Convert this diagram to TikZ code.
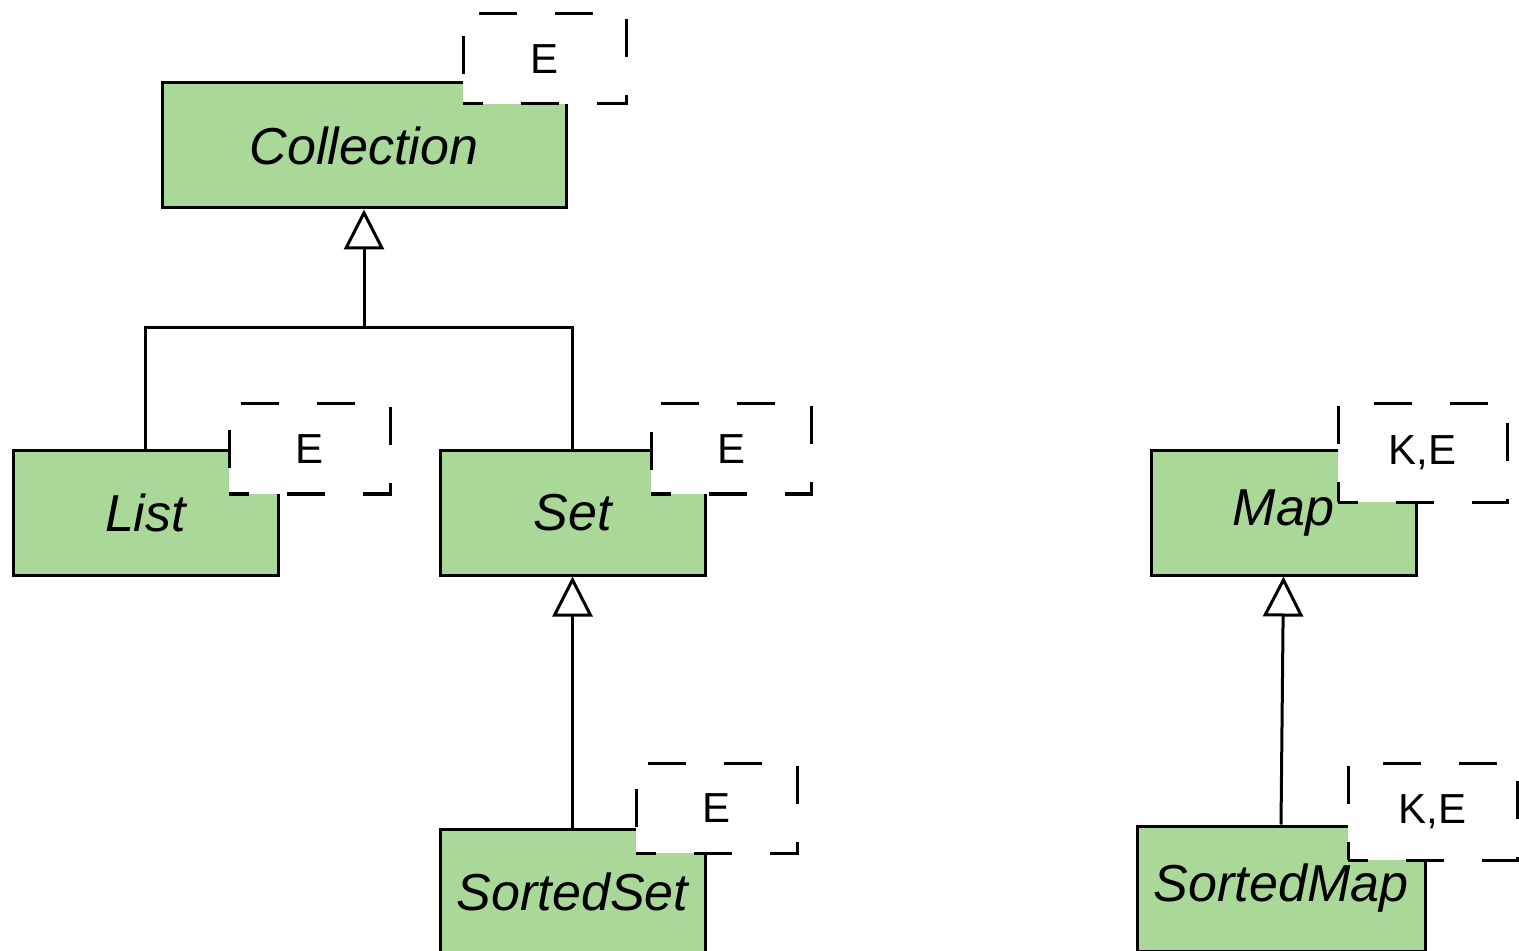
\documentclass[tikz,border=0pt]{standalone}
\usepackage{fontspec}
\setmainfont{Liberation Sans}
\usetikzlibrary{positioning}
\usetikzlibrary{arrows.meta}
\usepackage{xcolor}
\definecolor{ifacecolor}{RGB}{170,216,153}

\begin{document}
\begin{tikzpicture}[x=0.5pt, y=-0.5pt, line width=1.5pt,
    iface/.style={draw=black, fill=ifacecolor, rectangle, inner sep=0pt, font=\fontsize{26}{30}\selectfont\itshape},
    param/.style={draw=black, fill=white, rectangle, inner sep=0pt, dash pattern=on 19pt off 19pt, dash phase=9pt,
      minimum width=80.5pt, minimum height=45pt, font=\fontsize{21}{25}\selectfont},
    inh/.style={-{Triangle[length=20pt, width=20pt, fill=white]}}]
    \tikzstyle{bigparam} = [param, minimum width=84.5pt, minimum height=48.5pt]

    \useasboundingbox (0,0) rectangle (1519,951);

    % class boxes
    \node[iface, minimum width=202pt, minimum height=62.5pt] (coll) at (364, 145.5) {Collection};
    \node[iface, minimum width=132.5pt, minimum height=62pt] (list) at (145.5, 513) {List};
    \node[iface, minimum width=132.5pt, minimum height=62pt] (set) at (572.5, 513) {Set};
    \node[iface, minimum width=132.5pt, minimum height=62.5pt] (sset) at (572.5, 891.5) {SortedSet};
    \node[iface, minimum width=132.5pt, minimum height=62pt] (map) at (1283.5, 513) {Map};
    \node[iface, minimum width=144pt, minimum height=62.5pt] (smap) at (1281, 888.5) {SortedMap};

    % type parameters
    \node[param, minimum width=81.5pt] (collpar) at (544.5, 59) {E};
    \node[param] (listpar) at (309.5, 449) {E};
    \node[param, minimum width=80pt] (setpar) at (731, 449) {E};
    \node[param] (ssetpar) at (716.5, 808) {E};
    \node[bigparam, minimum height=49pt] (mappar) at (1422.5, 453) {K,E};
    \node[bigparam] (smappar) at (1432.5, 811.5) {K,E};

    % inheritance
    \coordinate (fork) at (364, 328);
    \draw[inh] (fork) -- (coll.south);
    \draw (list.north) |- (fork) -| (set.north);
    \draw[inh] (sset.north) -- (set.south);
    \draw[inh] (smap.north) -- (map.south);

\end{tikzpicture}
\end{document}
